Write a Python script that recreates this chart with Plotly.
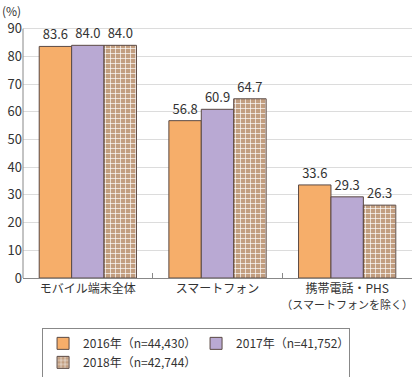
import plotly.graph_objects as go

categories = ["モバイル端末全体", "スマートフォン",
              "携帯電話・PHS<br><span style='font-size:11px'>（スマートフォンを除く）</span>"]
series_names = ["2016年（n=44,430）", "2017年（n=41,752）", "2018年（n=42,744）"]
v2016 = [83.6, 56.8, 33.6]
v2017 = [84.0, 60.9, 29.3]
v2018 = [84.0, 64.7, 26.3]
y_ticks = [0, 10, 20, 30, 40, 50, 60, 70, 80, 90, 100]
y_ticktext = ["0", "10", "20", "30", "40", "50", "60", "70", "80", "90", ""]

FONT = "Noto Sans CJK JP"
outline = dict(color="#5b4a44", width=1)

fig = go.Figure()
fig.add_trace(go.Bar(x=categories, y=v2016, name=series_names[0],
                     marker=dict(color="#F6AE6A", line=outline),
                     texttemplate="%{y:.1f}", textposition="outside", cliponaxis=False))
fig.add_trace(go.Bar(x=categories, y=v2017, name=series_names[1],
                     marker=dict(color="#B9A9D3", line=outline),
                     texttemplate="%{y:.1f}", textposition="outside", cliponaxis=False))
fig.add_trace(go.Bar(x=categories, y=v2018, name=series_names[2],
                     marker=dict(color="#C29E80", line=outline,
                                 pattern=dict(shape="+", bgcolor="#C29E80", fgcolor="#ffffff",
                                              size=5, solidity=0.25, fillmode="replace")),
                     texttemplate="%{y:.1f}", textposition="outside", cliponaxis=False))

fig.update_traces(textfont=dict(family=FONT, size=13, color="#333333"))

fig.update_layout(
    width=412, height=377,
    margin=dict(l=23, r=0, t=1, b=99, autoexpand=False),
    paper_bgcolor="white", plot_bgcolor="white",
    font=dict(family=FONT, size=13, color="#333333"),
    barmode="group", bargap=0.25, bargroupgap=0,
    showlegend=True,
    legend=dict(orientation="h", x=0.049, xanchor="left", y=-0.18, yanchor="top",
                bordercolor="#888888", borderwidth=1, font=dict(family=FONT, size=12, color="#333333"),
                traceorder="normal", entrywidth=108, entrywidthmode="pixels"),
    xaxis=dict(showline=True, linecolor="#888888", linewidth=1, tickson="boundaries",
               ticks="inside", ticklen=5, tickcolor="#888888", tickangle=0, automargin=False,
               tickfont=dict(family=FONT, size=12, color="#333333")),
    yaxis=dict(range=[0, 100], tickvals=y_ticks, ticktext=y_ticktext, showgrid=True,
               gridcolor="#dcdcdc", gridwidth=1, showline=False, ticks="", automargin=False,
               tickfont=dict(family=FONT, size=13, color="#333333"), zeroline=False),
    annotations=[dict(text="(%)", xref="paper", yref="y", x=0, y=96.5, xanchor="right",
                      yanchor="middle", showarrow=False, xshift=0,
                      font=dict(family=FONT, size=12, color="#333333"))],
    shapes=[dict(type="line", xref="paper", yref="y", x0=0, x1=0, y0=0, y1=90,
                 line=dict(color="#888888", width=1))],
)

fig.write_html("out.html", config={"displayModeBar": False},
               post_script="document.body.style.margin='0';")
